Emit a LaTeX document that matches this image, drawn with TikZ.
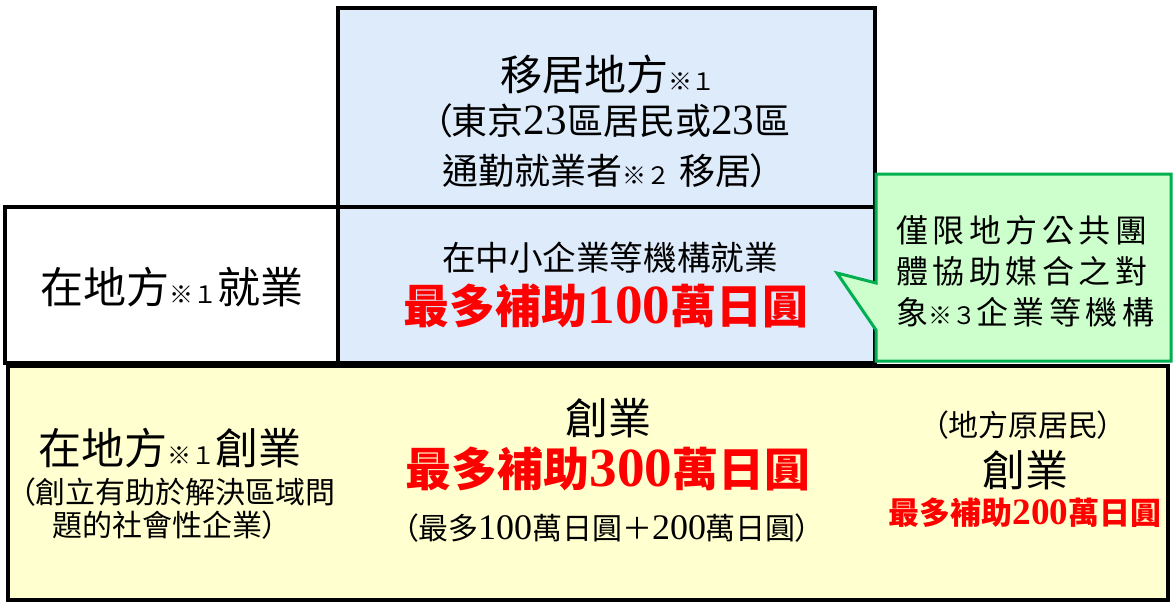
\documentclass[tikz,border=0pt]{standalone}
\usepackage{fontspec}
\usepackage{xcolor}
\setmainfont{Noto Sans CJK TC}[RawFeature=+palt]
\newfontfamily\numfont[Scale=1.2]{Liberation Serif}
\newfontfamily\markfont{Noto Sans CJK TC}
\newfontfamily\spacedfont[LetterSpace=14]{Noto Sans CJK TC}
\definecolor{boxblue}{RGB}{221,235,251}
\definecolor{boxyellow}{RGB}{255,255,208}
\definecolor{notegreen}{RGB}{204,255,204}
\definecolor{noteline}{RGB}{0,176,80}
\definecolor{sumred}{RGB}{255,0,0}
\newcommand{\nm}[1]{{\numfont #1}}
\newcommand{\refmark}[1]{{\markfont\fontsize{12pt}{12pt}\selectfont ※#1}}

\begin{document}
\begin{tikzpicture}[%
      x=0.5pt, y=-0.5pt,
      frame/.style={draw=black, line width=2pt},
      txt/.style={inner sep=0pt, text=black},
      head/.style={txt, font=\fontsize{21.5pt}{25pt}\selectfont},
      top/.style={txt, font=\fontsize{21pt}{25pt}\selectfont},
      sub/.style={txt, font=\fontsize{18pt}{21pt}\selectfont},
      mid/.style={txt, font=\fontsize{16.8pt}{20pt}\selectfont},
      small/.style={txt, font=\fontsize{15pt}{18pt}\selectfont},
      note/.style={txt, anchor=west, font=\spacedfont\fontsize{16pt}{19pt}\selectfont},
      sumbig/.style={txt, text=sumred, font=\bfseries\fontsize{23pt}{27pt}\selectfont},
      sumsmall/.style={txt, text=sumred, font=\bfseries\fontsize{15.5pt}{18pt}\selectfont},
      ]
      \useasboundingbox (0,0) rectangle (1175,605);
      
      \filldraw [fill=boxyellow, frame] (8,366) rectangle (1168,600);
      \filldraw [fill=white, frame] (5,207) rectangle (338,363);
      \filldraw [fill=boxblue, frame] (338,207) rectangle (875,363);
      \filldraw [fill=boxblue, frame] (338,8) rectangle (875,207);
      
      % callout
      \filldraw [fill=notegreen, draw=noteline, line width=1.5pt] (876,174) -- (1171,174) -- (1171,361) -- (876,361) -- (876,330) -- (837,273) -- (876,283) -- cycle;
      
      \node [top] (movehead) at (608,74) {移居地方\refmark{１}};
      \node [sub] (moveline1) at (612,121) {（東京\nm{23}區居民或\nm{23}區};
      \node [sub] (moveline2) at (606,171) {通勤就業者\refmark{２} 移居）};
      
      \node [head] (jobleft) at (172,287) {在地方\refmark{１}就業};
      \node [mid] (jobline) at (610,258) {在中小企業等機構就業};
      \node [sumbig] (jobsum) at (606,306) {最多補助\nm{100}萬日圓};
      
      \node [note] (noteline1) at (896,230) {僅限地方公共團};
      \node [note] (noteline2) at (896,271) {體協助媒合之對};
      \node [note] (noteline3) at (896,312) {象\refmark{３}企業等機構};
      
      \node [head] (startleft) at (170,448) {在地方\refmark{１}創業};
      \node [small, anchor=west] (startleft1) at (20,492) {（創立有助於解決區域問};
      \node [small, anchor=west] (startleft2) at (52,525) {題的社會性企業）};
      
      \node [head] (starthead) at (608,418) {創業};
      \node [sumbig] (startsum) at (608,469) {最多補助\nm{300}萬日圓};
      \node [small] (startsplit) at (607,528) {（最多\nm{100}萬日圓＋\nm{200}萬日圓）};
      
      \node [small] (localhead) at (1023,425) {（地方原居民）};
      \node [head] (localstart) at (1025,470) {創業};
      \node [sumsmall] (localsum) at (1025,513) {最多補助\nm{200}萬日圓};
      \end{tikzpicture}
\end{document}
